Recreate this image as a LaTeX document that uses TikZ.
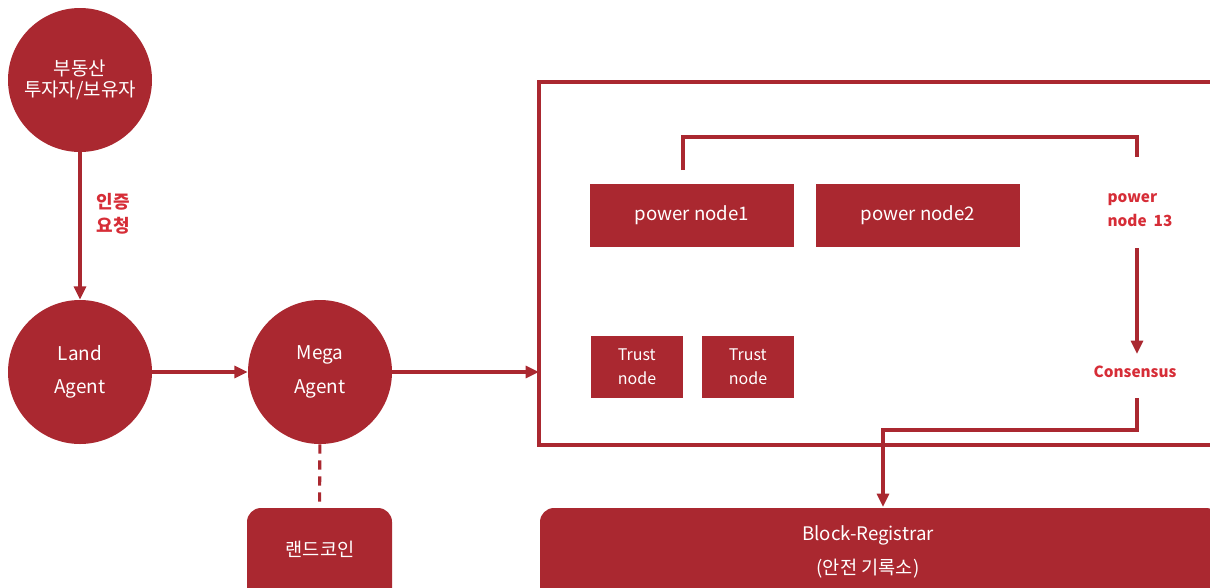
\documentclass[tikz,border=0pt]{standalone}
\usepackage{fontspec}
\setmainfont{Noto Sans CJK KR}
\usetikzlibrary{arrows.meta}
\definecolor{dred}{RGB}{170,40,48}
\definecolor{lred}{RGB}{214,45,55}
\tikzset{
  circ/.style={circle,fill=dred,text=white,minimum size=108pt,inner sep=0pt,align=center,font=\fontsize{14.2}{19}\selectfont},
  pbox/.style={fill=dred,text=white,minimum width=153pt,minimum height=47.25pt,inner sep=0pt,font=\fontsize{14}{16}\selectfont},
  tbox/.style={fill=dred,text=white,minimum width=69pt,minimum height=46.5pt,inner sep=0pt,align=left,font=\fontsize{12}{18}\selectfont},
  rbox/.style={fill=dred,text=white,rounded corners=10.5pt,inner sep=0pt,align=center},
  lab/.style={text=lred,align=left,font=\fontsize{11.5}{18}\selectfont\bfseries,inner sep=0pt},
  conn/.style={draw=dred,line width=2.3pt},
  arr/.style={conn,-{Triangle[length=10pt,width=9pt]}},
}
\begin{document}
\begin{tikzpicture}[x=0.75pt,y=-0.75pt]
\useasboundingbox (0,0) rectangle (1210,587);
\clip (0,0) rectangle (1210,587);
% circles
\node[circ] (inv) at (80,80) {부동산\\[-3pt]투자자/보유자};
\node[circ] (land) at (80,372) {Land\\[6pt]Agent};
\node[circ] (mega) at (320,372) {Mega\\[6pt]Agent};
% big frame
\coordinate (ftl) at (539,82);
\coordinate (fbl) at (539,445);
\coordinate (ftr) at (1215,82);
\coordinate (fbr) at (1215,445);
\coordinate (fin) at (539,372);
\draw[conn] (ftr) -- (ftl) -- (fbl) -- (fbr);
% arrows between circles
\draw[arr] (inv) -- (land);
\node[lab,font=\fontsize{13.5}{18}\selectfont\bfseries] (req) at (113,214) {인증\\요청};
\draw[arr] (land) -- (mega);
\draw[arr] (mega.east) -- (fin);
% coin
\node[rbox,minimum width=108.75pt,minimum height=82.5pt] (coin) at (319.5,563) {};
\node[text=white,font=\fontsize{14}{16}\selectfont] (cointxt) at (320,549) {랜드코인};
\draw[conn,dashed,dash pattern=on 7pt off 5pt] (mega) -- (coin);
% registrar
\node[rbox,minimum width=510pt,minimum height=82.5pt] (reg) at (880,563) {};
\node[text=white,align=center,font=\fontsize{14}{25}\selectfont] (regtxt) at (868,552) {Block-Registrar\\(안전 기록소)};
% power nodes
\node[pbox] (p1) at (692,215.5) {power node1};
\node[pbox] (p2) at (918,215.5) {power node2};
\node[lab] (p13) at (1140,210) {power\\node~~13};
\node[lab,align=center] (cons) at (1135,372) {Consensus};
\node[tbox] (t1) at (637,367) {Trust\\node};
\node[tbox] (t2) at (748,367) {Trust\\node};
% bracket
\coordinate (b1) at (683,170);
\coordinate (b2) at (683,137);
\coordinate (b3) at (1137,137);
\coordinate (b4) at (1137,157);
\draw[conn] (b1) -- (b2) -- (b3) -- (b4);
\coordinate (p13b) at (1137,248);
\coordinate (consT) at (1137,354);
\draw[arr] (p13b) -- (consT);
\coordinate (c1) at (1137,398);
\coordinate (c2) at (1137,430);
\coordinate (c3) at (883,430);
\coordinate (regT) at (883,507);
\draw[arr] (c1) -- (c2) -- (c3) -- (regT);
\end{tikzpicture}
\end{document}
